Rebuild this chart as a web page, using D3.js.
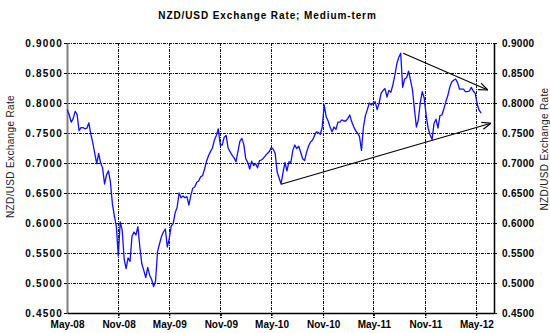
<!DOCTYPE html>
<html>
<head>
<meta charset="utf-8">
<script src="https://cdn.jsdelivr.net/npm/d3@7"></script>
<style>
  html, body { margin: 0; padding: 0; background: #fff; }
  svg { display: block; font-family: "Liberation Sans", Arial, sans-serif; }
</style>
</head>
<body>
<svg id="chart" width="550" height="333"></svg>
<script>
// NZD/USD weekly closes, one value per week starting at firstWeek
const firstWeek = "2008-05-02";
const weeklyRate = [
  0.789, 0.780, 0.768, 0.774, 0.786, 0.781, 0.754, 0.759, 0.759, 0.757,
  0.758, 0.767, 0.748, 0.734, 0.716, 0.699, 0.716, 0.700, 0.692, 0.665,
  0.680, 0.687, 0.668, 0.632, 0.612, 0.595, 0.545, 0.602, 0.588, 0.540,
  0.524, 0.542, 0.536, 0.578, 0.585, 0.580, 0.594, 0.560, 0.532, 0.521,
  0.509, 0.526, 0.513, 0.506, 0.494, 0.503, 0.552, 0.565, 0.577, 0.585,
  0.590, 0.560, 0.574, 0.595, 0.599, 0.617, 0.626, 0.650, 0.642, 0.645,
  0.642, 0.644, 0.630, 0.646, 0.658, 0.660, 0.668, 0.670, 0.677, 0.679,
  0.690, 0.703, 0.712, 0.719, 0.725, 0.738, 0.746, 0.757, 0.730, 0.730,
  0.743, 0.746, 0.725, 0.719, 0.713, 0.709, 0.702, 0.719, 0.736, 0.741,
  0.731, 0.707, 0.701, 0.690, 0.703, 0.696, 0.699, 0.692, 0.704, 0.705,
  0.708, 0.712, 0.716, 0.719, 0.726, 0.723, 0.716, 0.685, 0.675, 0.665,
  0.684, 0.701, 0.687, 0.702, 0.701, 0.721, 0.730, 0.724, 0.728, 0.718,
  0.707, 0.704, 0.718, 0.728, 0.735, 0.738, 0.745, 0.752, 0.751, 0.748,
  0.760, 0.797, 0.777, 0.770, 0.760, 0.752, 0.760, 0.756, 0.768, 0.768,
  0.772, 0.770, 0.770, 0.774, 0.780, 0.769, 0.761, 0.754, 0.750, 0.744,
  0.721, 0.760, 0.779, 0.789, 0.800, 0.797, 0.800, 0.802, 0.789, 0.800,
  0.816, 0.821, 0.824, 0.810, 0.821, 0.818, 0.830, 0.846, 0.865, 0.876,
  0.883, 0.826, 0.840, 0.842, 0.853, 0.838, 0.822, 0.790, 0.760, 0.772,
  0.801, 0.819, 0.808, 0.779, 0.758, 0.747, 0.739, 0.766, 0.773, 0.758,
  0.779, 0.780, 0.790, 0.802, 0.812, 0.826, 0.835, 0.838, 0.840, 0.834,
  0.823, 0.823, 0.823, 0.819, 0.819, 0.820, 0.826, 0.820, 0.816, 0.798,
  0.788, 0.783
];

const xTickDates = ["2008-05-01", "2008-11-01", "2009-05-01", "2009-11-01", "2010-05-01",
                    "2010-11-01", "2011-05-01", "2011-11-01", "2012-05-01"];
const yTicks = [0.45, 0.50, 0.55, 0.60, 0.65, 0.70, 0.75, 0.80, 0.85, 0.90];
const xDomain = ["2008-05-01", "2012-07-03"];

// Trend arrows: [date, rate] start and end
const upperArrow = [["2011-08-14", 0.8828], ["2012-06-11", 0.8217]];
const lowerArrow = [["2010-06-04", 0.6645], ["2012-06-22", 0.7662]];

const chartTitle = "NZD/USD Exchange Rate; Medium-term";
const axisTitle = "NZD/USD Exchange Rate";

const parse = d3.utcParse("%Y-%m-%d");
const start = parse(firstWeek);
const series = weeklyRate.map((v, i) => ({ date: d3.utcDay.offset(start, 7 * i), value: v }));

const svg = d3.select("#chart");
const plot = { left: 67, right: 494, top: 43, bottom: 313 };

const x = d3.scaleUtc().domain(xDomain.map(parse)).range([plot.left, plot.right]);
const y = d3.scaleLinear().domain([0.45, 0.90]).range([plot.bottom, plot.top]);

const fmtY = d3.format(".4f");
const fmtX = d3.utcFormat("%b-%y");

// Grid lines (dash-dot)
const grid = svg.append("g").attr("stroke", "#111").attr("stroke-width", 1)
  .attr("stroke-dasharray", "3,1,1,1").attr("shape-rendering", "crispEdges");
grid.selectAll("line.h").data(yTicks.slice(1)).join("line")
  .attr("x1", plot.left).attr("x2", plot.right)
  .attr("y1", d => y(d)).attr("y2", d => y(d));
grid.selectAll("line.v").data(xTickDates.slice(1).map(parse)).join("line")
  .attr("x1", d => x(d)).attr("x2", d => x(d))
  .attr("y1", plot.top).attr("y2", plot.bottom + 5);

// Axes
const leftAxis = d3.axisLeft(y).tickValues(yTicks).tickFormat(fmtY).tickSize(3).tickPadding(1).tickSizeOuter(0);
const rightAxis = d3.axisRight(y).tickValues(yTicks).tickFormat(fmtY).tickSize(3).tickPadding(5).tickSizeOuter(0);
const bottomAxis = d3.axisBottom(x).tickValues(xTickDates.map(parse)).tickFormat(fmtX).tickSize(5).tickPadding(3).tickSizeOuter(0);

const gL = svg.append("g").attr("transform", `translate(${plot.left},0)`).call(leftAxis);
const gR = svg.append("g").attr("transform", `translate(${plot.right},0)`).call(rightAxis);
const gB = svg.append("g").attr("transform", `translate(0,${plot.bottom})`).call(bottomAxis);

[gL, gR, gB].forEach(g => {
  g.selectAll("text").attr("font-family", "Liberation Sans, Arial, sans-serif")
    .attr("font-size", 10).attr("font-weight", "bold").attr("fill", "#000");
  g.selectAll(".tick line").attr("stroke", "#000");
});
gL.selectAll("text").attr("letter-spacing", 1.2);
gR.selectAll("text").attr("letter-spacing", 0.3);
gL.select(".domain").attr("stroke", "#808080").attr("stroke-width", 2);
gR.select(".domain").attr("stroke", "#000").attr("stroke-width", 1.5);
gB.select(".domain").attr("stroke", "#000").attr("stroke-width", 1.5);
gB.selectAll(".tick line").attr("stroke-dasharray", "3,1,1,1");
gB.selectAll(".tick").filter((d, i) => i === 0).select("line").remove();

// Rate line
const line = d3.line().x(d => x(d.date)).y(d => y(d.value));
svg.append("path").datum(series)
  .attr("fill", "none").attr("stroke", "#1010ff").attr("stroke-width", 1.3)
  .attr("stroke-linejoin", "round").attr("d", line);

// Arrowhead marker
svg.append("defs").append("marker")
  .attr("id", "arrow").attr("viewBox", "0 0 10 10")
  .attr("refX", 10).attr("refY", 5)
  .attr("markerWidth", 9).attr("markerHeight", 9)
  .attr("markerUnits", "userSpaceOnUse").attr("orient", "auto")
  .append("path").attr("d", "M0,1 L10,5 L0,9")
  .attr("fill", "none").attr("stroke", "#000").attr("stroke-width", 1.3);

[upperArrow, lowerArrow].forEach(a => {
  svg.append("line")
    .attr("x1", x(parse(a[0][0]))).attr("y1", y(a[0][1]))
    .attr("x2", x(parse(a[1][0]))).attr("y2", y(a[1][1]))
    .attr("stroke", "#000").attr("stroke-width", 1.1)
    .attr("marker-end", "url(#arrow)");
});

// Titles
svg.append("text").attr("x", 267.5).attr("y", 19.3).attr("text-anchor", "middle")
  .attr("font-size", 10).attr("font-weight", "bold").attr("letter-spacing", 0.9)
  .attr("fill", "#000").text(chartTitle);

svg.append("text").attr("transform", "translate(14,156.5) rotate(-90)")
  .attr("text-anchor", "middle").attr("font-size", 10).attr("letter-spacing", 0.35)
  .attr("fill", "#222").text(axisTitle);

svg.append("text").attr("transform", "translate(547.5,149) rotate(-90)")
  .attr("text-anchor", "middle").attr("font-size", 10).attr("letter-spacing", 0.35)
  .attr("fill", "#222").text(axisTitle);
</script>
</body>
</html>
